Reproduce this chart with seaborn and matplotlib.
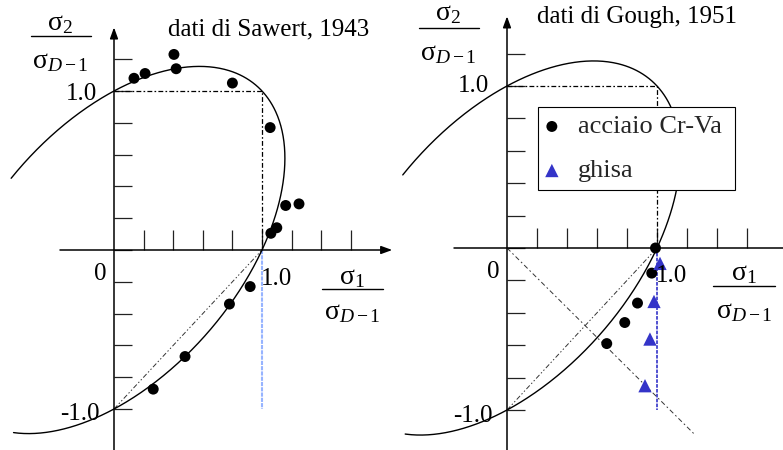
import numpy as np
import pandas as pd
import matplotlib
matplotlib.use("Agg")
import matplotlib.pyplot as plt
from matplotlib.lines import Line2D
import seaborn as sns

# ---------------------------------------------------------------- data
# Sawert (1943): normalised principal stresses at the fatigue limit
sawert_s1 = [0.135, 0.21, 0.405, 0.42, 0.80, 1.055, 1.06, 1.10, 1.16, 1.25,
             0.92, 0.78, 0.48, 0.265]
sawert_s2 = [1.08, 1.11, 1.23, 1.14, 1.05, 0.77, 0.105, 0.14, 0.28, 0.29,
             -0.23, -0.34, -0.67, -0.875]

# Gough (1951): Cr-V steel and cast iron
steel_s1 = [0.99, 0.965, 0.87, 0.785, 0.665]
steel_s2 = [0.0, -0.155, -0.34, -0.46, -0.59]
iron_s1 = [1.02, 0.98, 0.953, 0.92]
iron_s2 = [-0.095, -0.33, -0.562, -0.85]

steel_label = "acciaio Cr-Va"
iron_label = "ghisa"
titles = ["dati di Sawert, 1943", "dati di Gough, 1951"]

# von Mises limit curve s1^2 - s1*s2 + s2^2 = 1, drawn over this arc (deg)
mises_arc_deg = (-97, 156)

# guide lines (s1, s2 vertices)
unit_box_s1, unit_box_s2 = [0, 1, 1], [1, 1, 0]
chord_s1, chord_s2 = [0, 1], [-1, 0]
drop_s1, drop_s2 = [1, 1], [0, -1]
shear_s1, shear_s2 = [0, 1.25], [0, -1.15]

xticks = [0.2, 0.4, 0.6, 0.8, 1.0, 1.2, 1.4, 1.6]
yticks = [-1.0, -0.8, -0.6, -0.4, -0.2, 0.0, 0.2, 0.4, 0.6, 0.8, 1.0, 1.2]

# ---------------------------------------------------------------- style
sns.set_theme(style="white")
plt.rcParams["font.family"] = ["Liberation Serif", "DejaVu Serif"]
plt.rcParams["mathtext.fontset"] = "custom"
plt.rcParams["mathtext.rm"] = "Liberation Serif"
plt.rcParams["mathtext.it"] = "Liberation Serif:italic"
plt.rcParams["mathtext.bf"] = "Liberation Serif:bold"
plt.rcParams["lines.scale_dashes"] = False

W, H = 783, 450
FS = 18
LEG_FS = 19
FRAC_FS = 20
BLUE = "#3434c8"
LIGHT_BLUE = "#97b4ff"
TICK = "#222222"

fig = plt.figure(figsize=(W / 100, H / 100), dpi=100)
fig.patch.set_facecolor("white")


def fpos(x, y):
    return x / W, 1 - y / H


ax_l = fig.add_axes([0, 0, 400 / W, 1])
ax_r = fig.add_axes([395 / W, 0, 388 / W, 1])
ax_l.set_xlim(-114 / 148, 286 / 148)
ax_l.set_ylim(-200 / 159, 250 / 159)
ax_r.set_xlim(-112 / 150, 276 / 150)
ax_r.set_ylim(-202 / 162, 248 / 162)

t = np.radians(np.linspace(mises_arc_deg[0], mises_arc_deg[1], 600))
mises = pd.DataFrame({"s1": np.cos(t) + np.sin(t) / np.sqrt(3),
                      "s2": np.cos(t) - np.sin(t) / np.sqrt(3)})


def frame(ax, x_span, y_span, x_arrow):
    ax.set_facecolor("none")
    ax.grid(False)
    for side in ("top", "right"):
        ax.spines[side].set_visible(False)
    for side in ("left", "bottom"):
        ax.spines[side].set_position(("data", 0))
        ax.spines[side].set_color("none")
    ax.set_xticks(xticks)
    ax.set_yticks(yticks)
    ax.tick_params(axis="x", direction="in", length=14.4, width=0.9,
                   color=TICK, labelbottom=False, bottom=True)
    ax.tick_params(axis="y", direction="in", length=13, width=0.9,
                   color=TICK, labelleft=False, left=True)
    head = "-|>,head_length=0.55,head_width=0.2"
    ax.annotate("", xy=(0, y_span[1]), xytext=(0, y_span[0]),
                arrowprops=dict(arrowstyle=head, lw=1.1, color="black",
                                shrinkA=0, shrinkB=0, mutation_scale=12),
                annotation_clip=False)
    if x_arrow:
        ax.annotate("", xy=(x_span[1], 0), xytext=(x_span[0], 0),
                    arrowprops=dict(arrowstyle=head, lw=1.1, color="black",
                                    shrinkA=0, shrinkB=0, mutation_scale=12),
                    annotation_clip=False)
    else:
        ax.plot(x_span, [0, 0], color="black", lw=1.1, clip_on=False)


def guides(ax, drop_color, drop_dash, drop_lw):
    ax.plot(unit_box_s1, unit_box_s2, color="black", lw=0.9,
            ls=(0, (3.5, 1.6, 1.2, 1.6)), clip_on=False)
    ax.plot(chord_s1, chord_s2, color="#333333", lw=0.7,
            ls=(0, (3.5, 1.6, 1.0, 1.6, 1.0, 1.6)), clip_on=False)
    ax.plot(drop_s1, drop_s2, color=drop_color, lw=drop_lw, ls=drop_dash,
            clip_on=False)
    sns.lineplot(data=mises, x="s1", y="s2", sort=False, estimator=None,
                 color="black", lw=1.0, ax=ax)


# left panel: Sawert
frame(ax_l, (-0.365, 1.88), (-1.35, 1.40), True)
guides(ax_l, LIGHT_BLUE, (0, (3.0, 0.8)), 1.5)
sns.scatterplot(x=sawert_s1, y=sawert_s2, ax=ax_l, color="black", s=62,
                marker="o", edgecolor="none", linewidth=0, zorder=5,
                clip_on=False, legend=False)

# right panel: Gough
frame(ax_r, (-0.353, 1.85), (-1.35, 1.43), False)
guides(ax_r, BLUE, (0, (2.6, 0.9)), 1.2)
ax_r.plot(shear_s1, shear_s2, color="#333333", lw=0.7,
          ls=(0, (3.5, 2.0, 1.2, 2.0)), clip_on=False)
sns.scatterplot(x=steel_s1, y=steel_s2, ax=ax_r, color="black", s=62,
                marker="o", edgecolor="none", linewidth=0, zorder=5,
                clip_on=False, label=steel_label)
sns.scatterplot(x=iron_s1, y=iron_s2, ax=ax_r, color=BLUE, s=92,
                marker="^", edgecolor="none", linewidth=0, zorder=5,
                clip_on=False, label=iron_label)
leg = ax_r.legend(loc="upper left",
                  bbox_to_anchor=(143 / 388, 1 - 107 / 450 - 0.2, 197 / 388, 0.2),
                  mode="expand", borderaxespad=0, fontsize=LEG_FS, frameon=True,
                  fancybox=False, framealpha=1, edgecolor="black",
                  borderpad=0.3, handlelength=0.45, handletextpad=0.75,
                  labelspacing=0.78, scatterpoints=1)
leg.get_frame().set_linewidth(0.8)
leg.set_zorder(10)

# ---------------------------------------------------------------- labels
num = r"$\mathrm{σ}_{2}$"
num_x = r"$\mathrm{σ}_{1}$"
den = r"$\mathrm{σ}_{D-1}$"


def put(x, y, s, ha, size=FS):
    fig.text(*fpos(x, y), s, ha=ha, va="baseline", fontsize=size, color="black")


def bar(x0, x1, y):
    fig.add_artist(Line2D([x0 / W, x1 / W], [1 - y / H] * 2,
                          transform=fig.transFigure, color="black", lw=1.0))


# left panel text
put(168, 35, titles[0], "left")
put(97, 100, "1.0", "right")
put(100, 280, "0", "center")
put(100, 420, "-1.0", "right")
put(261, 285, "1.0", "left")
put(60, 30, num, "center", FRAC_FS)
bar(31, 91, 36)
put(60, 68, den, "center", FRAC_FS)
put(352, 284, num_x, "center", FRAC_FS)
bar(322, 383, 289)
put(352, 319, den, "center", FRAC_FS)

# right panel text
put(537, 23, titles[1], "left")
put(489, 92, "1.0", "right")
put(493, 278, "0", "center")
put(493, 422, "-1.0", "right")
put(656, 282, "1.0", "left")
put(448, 20, num, "center", FRAC_FS)
bar(419, 479, 28)
put(448, 60, den, "center", FRAC_FS)
put(744, 280, num_x, "center", FRAC_FS)
bar(713, 775, 286)
put(744, 318, den, "center", FRAC_FS)

fig.savefig("out.png", dpi=100, facecolor="white")
